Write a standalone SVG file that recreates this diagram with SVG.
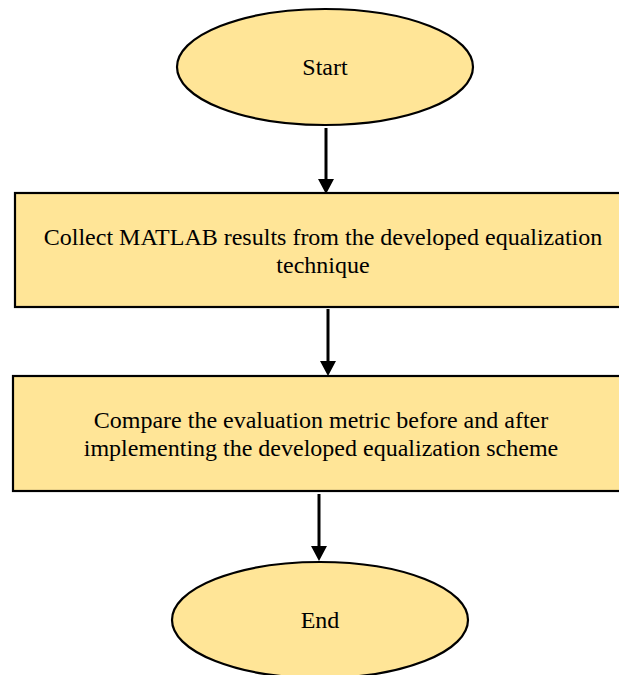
<svg xmlns="http://www.w3.org/2000/svg" width="619" height="675" viewBox="0 0 619 675">
<style>
.n{fill:#FFE597;stroke:#000;stroke-width:2.2}
.t{font-family:"Liberation Serif","Times New Roman",serif;font-size:24px;fill:#000;text-anchor:middle}
.c{stroke:#000;stroke-width:3;fill:none}
.h{fill:#000}
</style>
<rect width="619" height="675" fill="#fff"/>
<g id="start">
<ellipse class="n" cx="325" cy="67" rx="148" ry="58"/>
<text class="t" x="325" y="75">Start</text>
</g>
<g id="collect">
<rect class="n" x="15" y="193" width="620" height="114"/>
<text class="t" x="323" y="245">Collect MATLAB results from the developed equalization</text>
<text class="t" x="323" y="273">technique</text>
</g>
<g id="compare">
<rect class="n" x="13" y="376" width="620" height="115"/>
<text class="t" x="321" y="428">Compare the evaluation metric before and after</text>
<text class="t" x="321" y="456">implementing the developed equalization scheme</text>
</g>
<g id="end">
<ellipse class="n" cx="320" cy="620" rx="148" ry="58"/>
<text class="t" x="320" y="628">End</text>
</g>
<g id="connectors">
<line class="c" x1="326" y1="128" x2="326" y2="180"/>
<path class="h" d="M318,179 L334,179 L326,194 Z"/>
<line class="c" x1="328" y1="309" x2="328" y2="362"/>
<path class="h" d="M320,361 L336,361 L328,376 Z"/>
<line class="c" x1="319" y1="494" x2="319" y2="547"/>
<path class="h" d="M311,546 L327,546 L319,561 Z"/>
</g>
</svg>
